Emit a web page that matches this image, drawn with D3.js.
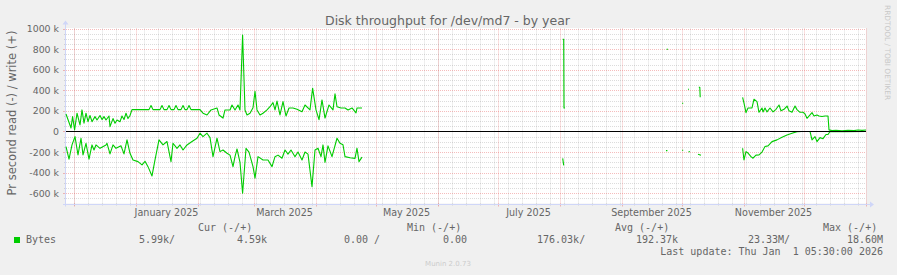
<!DOCTYPE html>
<html><head><meta charset="utf-8">
<script src="https://cdn.jsdelivr.net/npm/d3@7"></script>
<style>
html,body{margin:0;padding:0;background:#f0f0f0;}
svg{display:block;}
text{font-family:"DejaVu Sans",sans-serif;fill:#666666;}
.mono{font-family:"DejaVu Sans Mono",monospace;white-space:pre;}
</style></head>
<body><svg id="c" width="897" height="275"></svg>
<script>
// ---- data (values in k bytes/s; day offset from period start) ----
const periodStart = "2024-11-27T05:30:00Z";
const periodEnd = "2026-01-01T05:30:00Z";
const title = "Disk throughput for /dev/md7 - by year";
const yTitle = "Pr second read (-) / write (+)";
const monthLabels = ["January 2025","March 2025","May 2025","July 2025","September 2025","November 2025"];
const monthLabelDates = ["2025-01-01","2025-03-01","2025-05-01","2025-07-01","2025-09-01","2025-11-01"];
const yMajorTicks = [-600,-400,-200,0,200,400,600,800,1000];

const writeDay = [0,2.5,3.3,4.3,5.5,7,8,9,10,11,12,13,14.5,15.5,17,18,19,20,21.5,22,23.5,24.5,25.5,27,28,29,30,31,32,33,
 41.5,42.5,43.5,47,48,49,50.5,51.5,52.5,54,55,56,57.5,58.5,59.5,60.5,61.5,62.5,67,68.5,70.5,72.5,75.5,76.5,78.5,79.5,82,83,84.5,86,87,88.3,89.5,90.5,92,93.5,94.5,95.5,97,98.5,100.5,102,103.5,104.5,105.5,107,108.5,110,111.5,113.5,115.5,118,119.5,122,123.3,125,126.5,128,129.5,131.5,133.5,134.5,135.5,137.5,139.5,141,143,145,145.5,148,
 149,
 248.35,248.85,249,249.5,
 250,
 300.3,301,
 302,
 308,308.6,
 309,
 311,311.5,
 312,
 316.4,316.9,317.1,
 318,
 338.3,339,340,341,343,344,345.5,346.5,348,348.5,349.5,350.5,352,353.5,355,356.5,357.5,359,360.5,361.5,363,364.5,365.5,367,368.5,369.5,370.5,372,373,374,375.5,376.5,378,379.5,381,381.5,383,385,388,391,394,396,398,400];
const writeVal = [170,34,144,15,177,63,209,80,177,95,155,95,144,111,155,115,144,111,150,47,125,80,111,95,150,115,177,125,155,212,
 212,252,212,212,252,212,212,252,212,212,252,212,212,252,212,212,252,212,212,177,160,209,228,160,130,209,209,257,209,257,209,937,209,160,177,230,390,209,160,177,209,240,280,209,295,160,290,150,228,228,215,192,257,209,420,209,115,306,130,257,209,365,240,228,228,209,228,180,228,228,
 null,
 895,895,228,228,
 null,
 798,798,
 null,
 274,274,
 null,
 410,410,
 null,
 429,429,332,
 null,
 332,274,183,228,228,313,290,186,228,190,228,190,228,190,215,257,200,215,247,200,186,247,212,186,186,170,128,160,183,150,160,150,145,150,150,15,8,10,6,12,8,14,10,14];

const readDay = [0,1.5,3,4.5,6,7.5,8.5,10,11.5,13,14,15,17,20,20.5,22,23.5,25,27.5,29,30.5,32,33.5,36,38,39.5,41,43,44.5,46.5,48.5,50.5,52.5,53.5,55.5,57,58.5,60.5,63,65.5,67,68.5,70.5,72,73.5,75.5,77,78.5,80.5,82,83.5,84.5,85.5,87,88.3,90,91.5,93.5,94.5,96,98.5,101,103,104.5,106,108,109.5,111,112.5,114.5,116,118,119.5,121,123,124.5,126,127.5,128.5,129.5,131,133,135.5,137,138.5,139.5,142,144.5,145.5,146.5,148,
 149,
 248.35,248.85,
 250,
 300,300.7,
 302,
 308,308.6,
 309,
 311.3,311.9,
 312,
 316,317.5,
 318,
 338.3,339,340,341,342.5,343.5,345,346.5,348,349.5,351,353,355.5,358,360.5,363,365.5,368,372,373,374.5,375.5,377,378.5,380,381,382,390,400];
const readVal = [-147,-270,-131,-50,-228,-66,-228,-115,-270,-131,-180,-131,-164,-131,-115,-218,-131,-164,-140,-218,-82,-212,-277,-293,-325,-290,-342,-432,-277,-82,-131,-98,-293,-115,-164,-131,-180,-131,-98,-66,-17,-50,-17,-60,-245,-66,-196,-180,-212,-230,-342,-245,-170,-300,-600,-165,-200,-342,-454,-245,-277,-277,-342,-245,-230,-260,-180,-220,-180,-245,-200,-277,-200,-220,-536,-180,-163,-245,-131,-300,-140,-245,-66,-115,-130,-245,-255,-262,-163,-293,-250,
 null,
 -262,-330,
 null,
 -186,-186,
 null,
 -183,-183,
 null,
 -196,-196,
 null,
 -222,-232,
 null,
 -163,-277,-196,-210,-245,-260,-230,-228,-200,-147,-140,-99,-82,-57,-34,-18,-2,0,0,-82,-50,-99,-60,-70,-30,-30,0,-2,0];

const legendHeaders = ["Cur (-/+)","Min (-/+)","Avg (-/+)","Max (-/+)"];
const seriesName = "Bytes";
const legendValues = ["5.99k/","4.59k","0.00 /","0.00","176.03k/","192.37k","23.33M/","18.60M"];
const lastUpdate = "Last update: Thu Jan  1 05:30:00 2026";
const credit = "RRDTOOL / TOBI OETIKER";
const version = "Munin 2.0.73";

// ---- drawing ----
const svg = d3.select("#c");
const t0 = new Date(periodStart), t1 = new Date(periodEnd);
const DAY = 864e5;
const L = 66, R = 866, T = 28.5, B = 203.5;
const x = d3.scaleUtc().domain([t0, t1]).range([L, R]);
const y = d3.scaleLinear().domain([-700, 1000]).range([B, T]);
const px = v => Math.round(v) + 0.5;

svg.append("rect").attr("width",897).attr("height",275).attr("fill","#f0f0f0");
svg.append("rect").attr("x",L).attr("y",T-0.5).attr("width",R-L).attr("height",B-T+0.5).attr("fill","#ffffff");

const GRID = "rgba(128,128,128,0.28)", MGRID = "rgba(230,80,80,0.38)";
const g = svg.append("g");
// horizontal minor
d3.range(-700, 1001, 50).forEach(v => {
  if (v % 200 === 0) return;
  g.append("line").attr("x1",L).attr("x2",R).attr("y1",px(y(v))).attr("y2",px(y(v)))
    .attr("stroke",GRID).attr("stroke-dasharray","1,1");
  g.append("line").attr("x1",L-2).attr("x2",L).attr("y1",px(y(v))).attr("y2",px(y(v))).attr("stroke",GRID);
});
// vertical minor (weeks)
const weeks = d3.utcSunday.range(t0, t1);
const months = d3.utcMonth.range(t0, t1);
weeks.forEach(d => {
  const xx = px(x(d));
  g.append("line").attr("x1",xx).attr("x2",xx).attr("y1",T).attr("y2",B).attr("stroke",GRID).attr("stroke-dasharray","1,1");
  g.append("line").attr("x1",xx).attr("x2",xx).attr("y1",B).attr("y2",B+2).attr("stroke",GRID);
});
// major horizontal
yMajorTicks.forEach(v => {
  g.append("line").attr("x1",L).attr("x2",R).attr("y1",px(y(v))).attr("y2",px(y(v)))
    .attr("stroke",MGRID).attr("stroke-dasharray","1,1");
  g.append("line").attr("x1",L-3).attr("x2",L).attr("y1",px(y(v))).attr("y2",px(y(v))).attr("stroke",MGRID);
});
// major vertical (months)
months.forEach(d => {
  const xx = px(x(d));
  g.append("line").attr("x1",xx).attr("x2",xx).attr("y1",T).attr("y2",B).attr("stroke",MGRID).attr("stroke-dasharray","1,1");
  g.append("line").attr("x1",xx).attr("x2",xx).attr("y1",B).attr("y2",B+3).attr("stroke",MGRID);
});

// axes
const AX = "#CFD6F8";
svg.append("line").attr("x1",L-0.5).attr("x2",L-0.5).attr("y1",B+3).attr("y2",T-5).attr("stroke",AX);
svg.append("path").attr("d",`M${L-3.5},${T-4}L${L-0.5},${T-8}L${L+2.5},${T-4}Z`).attr("fill",AX);
svg.append("line").attr("x1",L-3).attr("x2",R+5).attr("y1",px(B)).attr("y2",px(B)).attr("stroke",AX);
svg.append("path").attr("d",`M${R+4},${px(B)-3}L${R+8},${px(B)}L${R+4},${px(B)+3}Z`).attr("fill",AX);

// y labels
yMajorTicks.forEach(v => {
  svg.append("text").attr("x",59).attr("y",y(v)+3.5).attr("text-anchor","end")
    .attr("font-size","9.4px").text(v === 0 ? "0" : v + " k");
});
// x labels
monthLabels.forEach((lab,i) => {
  const ms = new Date(monthLabelDates[i] + "T00:00:00Z");
  const me = d3.utcMonth.offset(ms, 1);
  const mid = new Date((+ms + +me)/2);
  svg.append("text").attr("x",x(mid)).attr("y",216).attr("text-anchor","middle")
    .attr("font-size","9.6px").text(lab);
});

// data lines
function series(days, vals) {
  return days.map((d,i) => ({t: new Date(+t0 + d*DAY), v: vals[i]}));
}
const line = d3.line().defined(d => d.v !== null).x(d => x(d.t)).y(d => y(d.v));
const plot = svg.append("g");
plot.append("path").datum(series(readDay, readVal)).attr("d", line)
  .attr("fill","none").attr("stroke","#00cc00").attr("stroke-width",1.1).attr("stroke-linejoin","round");
plot.append("path").datum(series(writeDay, writeVal)).attr("d", line)
  .attr("fill","none").attr("stroke","#00cc00").attr("stroke-width",1.1).attr("stroke-linejoin","round");
// zero rule
svg.append("line").attr("x1",L).attr("x2",R).attr("y1",px(y(0))).attr("y2",px(y(0))).attr("stroke","#000");

// titles
svg.append("text").attr("x",447.5).attr("y",25).attr("text-anchor","middle").attr("font-size","12.5px").text(title);
svg.append("text").attr("transform","translate(16,113) rotate(-90)").attr("text-anchor","middle")
  .attr("font-size","11.5px").text(yTitle);
svg.append("text").attr("transform","translate(885,5) rotate(90)").attr("text-anchor","start")
  .attr("font-size","7.4px").style("fill","#c8c8c8").text(credit);

// legend
const hdrX = [198,407,615,823];
legendHeaders.forEach((h,i) => {
  svg.append("text").attr("class","mono").attr("x",hdrX[i]).attr("y",231).attr("font-size","10px").text(h);
});
svg.append("rect").attr("x",14).attr("y",237).attr("width",6).attr("height",6).attr("fill","#00cc00");
svg.append("text").attr("class","mono").attr("x",26).attr("y",243).attr("font-size","10px").text(seriesName);
const valX = [139,237,344,443,537,636,748,847];
legendValues.forEach((v,i) => {
  svg.append("text").attr("class","mono").attr("x",valX[i]).attr("y",243).attr("font-size","10px").text(v);
});
svg.append("text").attr("class","mono").attr("x",883).attr("y",255).attr("text-anchor","end")
  .attr("font-size","10px").text(lastUpdate);
svg.append("text").attr("x",448).attr("y",266).attr("text-anchor","middle").attr("font-size","7px")
  .style("fill","#cccccc").text(version);
</script></body></html>
